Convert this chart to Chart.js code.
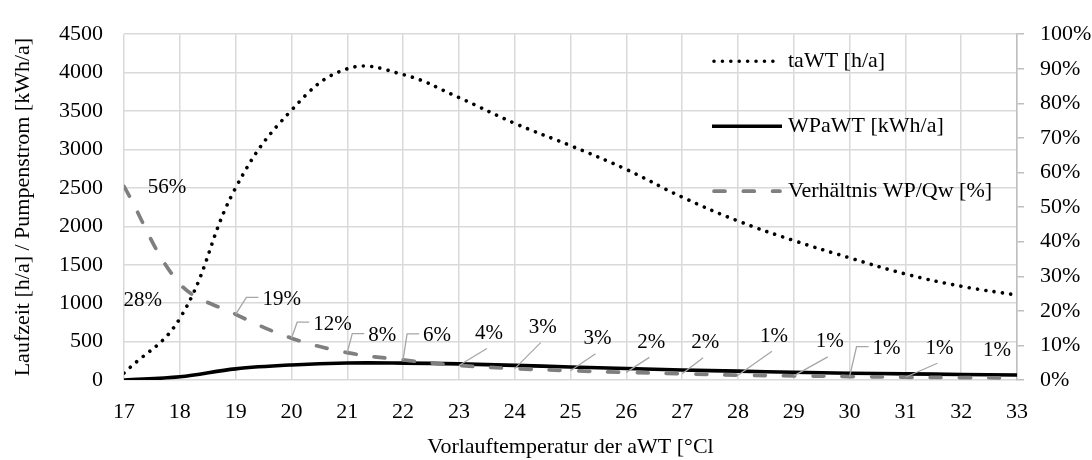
<!DOCTYPE html>
<html>
<head>
<meta charset="utf-8">
<script src="https://cdn.jsdelivr.net/npm/chart.js@4.4.1/dist/chart.umd.min.js"></script>
<style>
  html, body { margin: 0; padding: 0; background: #ffffff; }
  #wrap { width: 1092px; height: 460px; }
</style>
</head>
<body>
<div id="wrap"><canvas id="chart" width="1092" height="460"></canvas></div>
<script>
// Vorlauftemperatur der aWT [°C]
const temperatures = [17, 18, 19, 20, 21, 22, 23, 24, 25, 26, 27, 28, 29, 30, 31, 32, 33];
// Laufzeit taWT [h/a]
const laufzeit = [90, 800, 2500, 3510, 4050, 3975, 3675, 3340, 3050, 2740, 2380, 2070, 1815, 1590, 1380, 1220, 1105];
// Pumpenstrom WPaWT [kWh/a]
const pumpenstrom = [0, 42, 145, 196, 221, 220, 210, 190, 170, 150, 130, 115, 100, 88, 80, 72, 65];
// Verhältnis WP/Qw (Anteil)
const verhaeltnis = [0.56, 0.278, 0.19, 0.121, 0.079, 0.058, 0.042, 0.033, 0.027, 0.022, 0.018, 0.014, 0.012, 0.010, 0.008, 0.007, 0.006];

// Achsenteilung
const xTicks = temperatures;
const leftTicks = [0, 500, 1000, 1500, 2000, 2500, 3000, 3500, 4000, 4500];
const rightTicks = [0, 0.1, 0.2, 0.3, 0.4, 0.5, 0.6, 0.7, 0.8, 0.9, 1.0];

const FONT = "'Liberation Serif', 'Times New Roman', serif";
const pct = v => Math.round(v * 100) + '%';

// Lage der Prozent-Beschriftungen relativ zum Punkt (null = ohne Beschriftung)
const labelLayout = [
  { dx: 43, dy: 1 },
  { dx: -37, dy: 17 },
  { dx: 46, dy: -15, leader: 'elbow' },
  { dx: 41, dy: -14, leader: 'elbow' },
  { dx: 35, dy: -17, leader: 'elbow' },
  { dx: 34, dy: -24, leader: 'elbow' },
  { dx: 30, dy: -32, leader: 'line' },
  { dx: 28, dy: -41, leader: 'line' },
  { dx: 27, dy: -32, leader: 'line' },
  { dx: 25, dy: -30, leader: 'line' },
  { dx: 23, dy: -31, leader: 'line' },
  { dx: 36, dy: -39, leader: 'line' },
  { dx: 36, dy: -34, leader: 'line' },
  { dx: 37, dy: -28, leader: 'elbow' },
  { dx: 34, dy: -29, leader: 'line' },
  null,
  { dx: -20, dy: -27 }
];

const points = values => temperatures.map((t, i) => ({ x: t, y: values[i] }));

// Prozentwerte mit Führungslinien
const valueLabels = {
  id: 'valueLabels',
  afterDatasetsDraw(chart) {
    const { ctx } = chart;
    const meta = chart.getDatasetMeta(2);
    const values = chart.data.datasets[2].data;
    ctx.save();
    ctx.font = '21px ' + FONT;
    ctx.textAlign = 'center';
    ctx.textBaseline = 'middle';
    meta.data.forEach((pt, i) => {
      const lay = labelLayout[i];
      if (!lay) return;
      const text = pct(values[i].y);
      const cx = pt.x + lay.dx, cy = pt.y + lay.dy;
      const w = ctx.measureText(text).width;
      ctx.strokeStyle = '#a6a6a6';
      ctx.lineWidth = 1.3;
      ctx.setLineDash([]);
      if (lay.leader === 'elbow') {
        const sx = cx - w / 2 - 4, sy = cy - 2;
        ctx.beginPath();
        ctx.moveTo(sx, sy);
        ctx.lineTo(sx - 12, sy);
        ctx.lineTo(pt.x, pt.y);
        ctx.stroke();
      } else if (lay.leader === 'line') {
        ctx.beginPath();
        ctx.moveTo(cx - 2, cy + 15);
        ctx.lineTo(pt.x, pt.y);
        ctx.stroke();
      }
      ctx.fillStyle = '#000000';
      ctx.fillText(text, cx, cy);
    });
    ctx.restore();
  }
};

// Legende innerhalb der Zeichenfläche
const seriesKey = {
  id: 'seriesKey',
  afterDatasetsDraw(chart) {
    const { ctx, chartArea } = chart;
    const x0 = chartArea.right - 305, len = 70;
    chart.data.datasets.forEach((ds, i) => {
      const y = chartArea.top + 27 + i * 65;
      const inset = ds.borderCapStyle === 'round' ? 2 : 0;
      ctx.save();
      ctx.strokeStyle = ds.borderColor;
      ctx.lineWidth = ds.borderWidth;
      ctx.lineCap = ds.borderCapStyle || 'butt';
      ctx.setLineDash(ds.borderDash || []);
      ctx.beginPath();
      ctx.moveTo(x0 + inset, y);
      ctx.lineTo(x0 + len - inset, y);
      ctx.stroke();
      ctx.setLineDash([]);
      ctx.fillStyle = '#000000';
      ctx.font = '22px ' + FONT;
      ctx.textAlign = 'left';
      ctx.textBaseline = 'middle';
      ctx.fillText(ds.label, x0 + len + 6, y);
      ctx.restore();
    });
  }
};

const tickFont = { family: FONT, size: 22 };

new Chart(document.getElementById('chart'), {
  type: 'line',
  data: {
    datasets: [
      {
        label: 'taWT [h/a]',
        data: points(laufzeit),
        yAxisID: 'y',
        borderColor: '#000000',
        borderWidth: 3.6,
        borderDash: [0.01, 8.4],
        borderCapStyle: 'round',
        pointRadius: 0,
        tension: 0.42,
        order: 2
      },
      {
        label: 'WPaWT [kWh/a]',
        data: points(pumpenstrom),
        yAxisID: 'y',
        borderColor: '#000000',
        borderWidth: 3.6,
        pointRadius: 0,
        tension: 0.35,
        order: 1
      },
      {
        label: 'Verhältnis WP/Qw [%]',
        data: points(verhaeltnis),
        yAxisID: 'y1',
        borderColor: '#7f7f7f',
        borderWidth: 3.7,
        borderDash: [11, 18.3],
        borderCapStyle: 'round',
        pointRadius: 0,
        tension: 0.35,
        order: 0
      }
    ]
  },
  options: {
    responsive: false,
    devicePixelRatio: 1,
    animation: false,
    layout: { padding: { top: 21, left: 0, right: 0, bottom: 0 } },
    plugins: { legend: { display: false }, tooltip: { enabled: false } },
    scales: {
      x: {
        type: 'linear',
        min: 17,
        max: 33,
        afterBuildTicks: s => { s.ticks = xTicks.map(v => ({ value: v })); },
        afterFit: s => { s.height = 80; },
        grid: { color: '#d9d9d9', lineWidth: 1.5, drawTicks: false },
        border: { display: false },
        ticks: { font: tickFont, color: '#000000', padding: 19, maxRotation: 0, autoSkip: false, callback: v => String(v) },
        title: {
          display: true,
          text: 'Vorlauftemperatur der aWT [°Cl',
          font: tickFont,
          color: '#000000',
          padding: { top: 0, bottom: 0 }
        }
      },
      y: {
        position: 'left',
        min: 0,
        max: 4500,
        afterBuildTicks: s => { s.ticks = leftTicks.map(v => ({ value: v })); },
        afterFit: s => { s.width = 124; },
        grid: { color: '#d9d9d9', lineWidth: 1.5, drawTicks: false },
        border: { display: false },
        ticks: { font: tickFont, color: '#000000', padding: 21, callback: v => String(v) },
        title: {
          display: true,
          text: 'Laufzeit [h/a] / Pumpenstrom [kWh/a]',
          font: tickFont,
          color: '#000000',
          padding: { top: 10, bottom: 0 }
        }
      },
      y1: {
        position: 'right',
        min: 0,
        max: 1,
        afterBuildTicks: s => { s.ticks = rightTicks.map(v => ({ value: v })); },
        afterFit: s => { s.width = 75; },
        grid: { drawOnChartArea: false, drawTicks: true, tickLength: 7, color: '#bfbfbf', lineWidth: 1.5 },
        border: { display: true, color: '#bfbfbf', width: 1.5 },
        ticks: { font: tickFont, color: '#000000', padding: 16, callback: v => pct(v) }
      }
    }
  },
  plugins: [valueLabels, seriesKey]
});
</script>
</body>
</html>
